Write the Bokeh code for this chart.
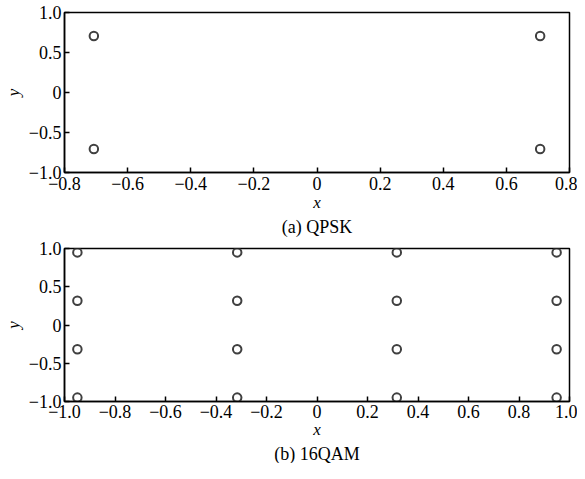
from bokeh.plotting import figure
from bokeh.layouts import column
from bokeh.models import FixedTicker, Title, Range1d
from bokeh.embed import file_html
from bokeh.resources import INLINE

# QPSK constellation
qpsk_x = [-0.707, -0.707, 0.707, 0.707]
qpsk_y = [0.707, -0.707, 0.707, -0.707]

# 16QAM constellation
qam_levels = [-0.949, -0.316, 0.316, 0.949]
qam_x = [xv for xv in qam_levels for _ in qam_levels]
qam_y = [yv for _ in qam_levels for yv in qam_levels]

# ticks and labels
qpsk_xticks = [-0.8, -0.6, -0.4, -0.2, 0.0, 0.2, 0.4, 0.6, 0.8]
qpsk_xlabels = ["−0.8", "−0.6", "−0.4", "−0.2", "0", "0.2", "0.4", "0.6", "0.8"]
qam_xticks = [-1.0, -0.8, -0.6, -0.4, -0.2, 0.0, 0.2, 0.4, 0.6, 0.8, 1.0]
qam_xlabels = ["−1.0", "−0.8", "−0.6", "−0.4", "−0.2", "0", "0.2", "0.4", "0.6", "0.8", "1.0"]
yticks = [-1.0, -0.5, 0.0, 0.5, 1.0]
ylabels = ["−1.0", "−0.5", "0", "0.5", "1.0"]

FONT = "'Liberation Serif', 'Times New Roman', serif"
FS = "18px"
FS_LAB = "17px"


def make(xs, ys, xr, xticks, xlabels, caption, height, top, bottom,
         tick_so, xlab_so, title_so):
    p = figure(width=577, height=height, output_backend="svg", toolbar_location=None,
               x_range=Range1d(*xr), y_range=Range1d(-1, 1),
               min_border_left=58, min_border_right=8, min_border_top=top,
               min_border_bottom=bottom)
    p.xgrid.visible = False
    p.ygrid.visible = False
    p.outline_line_color = "black"
    p.outline_line_width = 1.5
    p.background_fill_color = "white"
    p.border_fill_color = "white"
    p.scatter(xs, ys, marker="circle", size=8.5, fill_color=None,
              line_color="#404040", line_width=2)
    for ax, ticks, labels in ((p.xaxis[0], xticks, xlabels), (p.yaxis[0], yticks, ylabels)):
        ax.ticker = FixedTicker(ticks=ticks)
        ax.major_label_overrides = {t: l for t, l in zip(ticks, labels)}
        ax.minor_tick_line_color = None
        ax.major_tick_in = 5
        ax.major_tick_out = 0
        ax.major_tick_line_width = 1.5
        ax.axis_line_width = 1.5
        ax.major_label_text_font = FONT
        ax.major_label_text_font_size = FS
        ax.major_label_text_color = "black"
        ax.axis_label_text_font = FONT
        ax.axis_label_text_font_style = "italic"
        ax.axis_label_text_font_size = FS_LAB
        ax.axis_label_text_color = "black"
    p.xaxis[0].major_label_standoff = tick_so
    p.xaxis[0].axis_label = "x"
    p.xaxis[0].axis_label_standoff = xlab_so
    p.yaxis[0].major_label_standoff = 3
    p.yaxis[0].axis_label = "y"
    p.yaxis[0].axis_label_standoff = 3
    p.yaxis[0].major_label_orientation = "horizontal"
    t = Title(text=caption, align="center", text_font=FONT, text_font_style="normal",
              text_font_size=FS, text_color="black", standoff=title_so, offset=0)
    p.add_layout(t, "below")
    return p


p1 = make(qpsk_x, qpsk_y, (-0.8, 0.8), qpsk_xticks, qpsk_xlabels, "(a) QPSK",
          238, 12, 66, 4, 0, 1)
p2 = make(qam_x, qam_y, (-1.0, 1.0), qam_xticks, qam_xlabels, "(b) 16QAM",
          225, 10, 60, 3, -1, 0)

layout = column(p1, p2, spacing=0)
open("out.html", "w").write(file_html(layout, INLINE))
